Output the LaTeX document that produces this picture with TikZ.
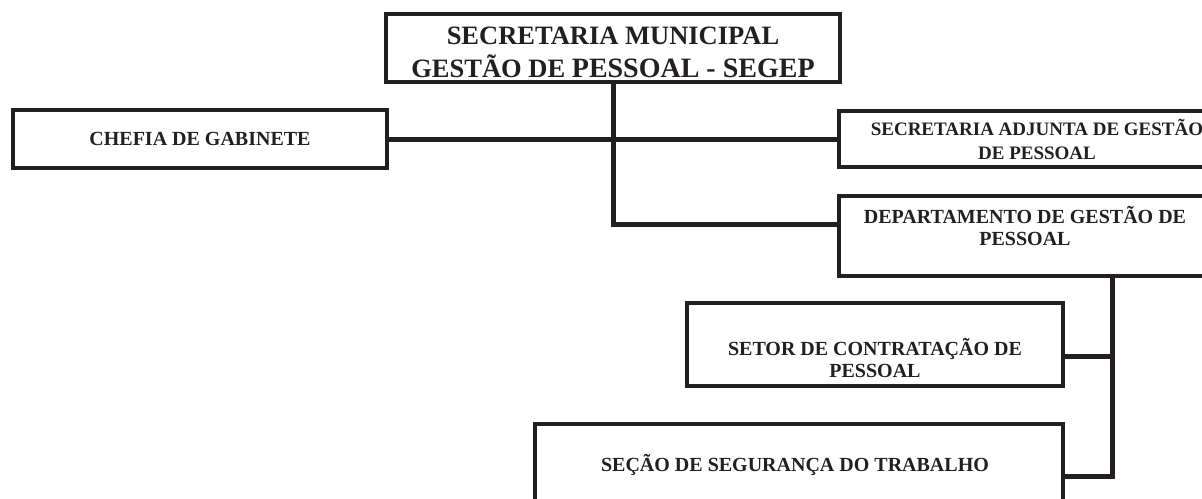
\documentclass[tikz,border=0pt]{standalone}
\usepackage{fontspec}
\setmainfont{Liberation Serif}
\usepackage{tikz}
\usetikzlibrary{positioning}
\usepackage{xcolor}
\definecolor{ink}{RGB}{35,31,32}

\begin{document}
\begin{tikzpicture}
[x = 1pt, y = -1pt,
 orgbox/.style = {rectangle, draw=ink, line width=4pt, inner sep=0pt, fill=white},
 boxtext/.style = {align=center, text=ink, inner sep=0pt, font=\bfseries\fontsize{20pt}{22pt}\selectfont},
 link/.style = {draw=ink, line width=5pt}]
\useasboundingbox (0,0) rectangle (1202,498);

\node[orgbox, minimum width=454, minimum height=68,
  label={[name=t1, boxtext, yshift=-4.5pt, font=\bfseries\fontsize{26.5pt}{33pt}\selectfont]center:SECRETARIA MUNICIPAL\\GESTÃO DE {\fontsize{28pt}{33pt}\selectfont PESSOAL - SEGEP}}] (n1) at (613,48) {};
\node[orgbox, minimum width=374, minimum height=58,
  label={[name=t2, boxtext]center:CHEFIA DE GABINETE}] (n2) at (200,139) {};
\node[orgbox, minimum width=396, minimum height=56,
  label={[name=t3, boxtext, font=\bfseries\fontsize{19pt}{24pt}\selectfont]center:SECRETARIA ADJUNTA DE GESTÃO\\DE PESSOAL}] (n3) at (1037,139) {};
\node[orgbox, minimum width=372, minimum height=80,
  label={[name=t4, boxtext, yshift=9.5pt]center:DEPARTAMENTO DE GESTÃO DE\\PESSOAL}] (n4) at (1025,236) {};
\node[orgbox, minimum width=376, minimum height=83,
  label={[name=t5, boxtext, yshift=-14pt]center:SETOR DE CONTRATAÇÃO DE\\PESSOAL}] (n5) at (875,344.5) {};
\node[orgbox, minimum width=528, minimum height=104,
  label={[name=t6, boxtext, yshift=11pt, xshift=-4pt]center:SEÇÃO DE SEGURANÇA DO TRABALHO}] (n6) at (799,476) {};

\coordinate (c1) at (613,224);
\coordinate (c2) at (1112,276);
\coordinate (c3) at (1112,356);

\draw[link] (n2.east) -- (n3.west);
\draw[link] (n1.south) -- (c1) -- (c1 -| n4.west);
\draw[link] (c2) |- (n6.east);
\draw[link] (c3) -- (c3 -| n5.east);

\end{tikzpicture}
\end{document}
